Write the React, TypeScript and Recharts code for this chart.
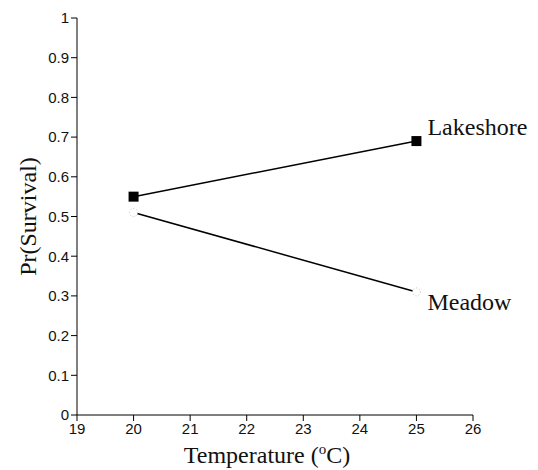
import React from "react";
import { LineChart, Line, XAxis, YAxis } from "recharts";

const temperatures = [20, 25];
const lakeshore = [0.55, 0.69];
const meadow = [0.51, 0.31];
const xTicks = [19, 20, 21, 22, 23, 24, 25, 26];
const yTicks = [0, 0.1, 0.2, 0.3, 0.4, 0.5, 0.6, 0.7, 0.8, 0.9, 1];

const data = temperatures.map((t, i) => ({ temp: t, lakeshore: lakeshore[i], meadow: meadow[i] }));

const tickStyle = { fontSize: 15, fill: "#111", fontFamily: "Liberation Sans, Arial, sans-serif" };
const serif = "Liberation Serif, Times New Roman, serif";

const SquareDot = ({ cx, cy }: any) => (
  <rect x={cx - 5} y={cy - 5} width={10} height={10} fill="#000" />
);

const FaintDot = ({ cx, cy }: any) => (
  <circle cx={cx} cy={cy} r={4} fill="#fff" stroke="#bbb" strokeWidth={1} strokeDasharray="1 2" />
);

const endLabel = (text: string, dy: number) => (props: any) => {
  const { x, y, index } = props;
  if (index !== temperatures.length - 1) return null;
  return (
    <text x={x + 11} y={y + dy} fontSize={24} fontFamily={serif} fill="#111">
      {text}
    </text>
  );
};

export default function App() {
  return (
    <div style={{ position: "absolute", left: 0, top: 0, background: "#fff" }}>
      <LineChart width={538} height={470} data={data} margin={{ top: 18, right: 65, bottom: 0, left: 0 }}>
        <XAxis
          dataKey="temp"
          type="number"
          domain={[19, 26]}
          ticks={xTicks}
          tick={tickStyle}
          stroke="#000"
          tickSize={6}
          height={55}
          label={(props: any) => {
            const { viewBox } = props;
            const cx = viewBox.x + viewBox.width / 2;
            return (
              <text x={cx - 8} y={viewBox.y + 48} textAnchor="middle" fontSize={24} fontFamily={serif} fill="#111">
                Temperature (
                <tspan dy={-9} fontSize={15}>o</tspan>
                <tspan dy={9}>C)</tspan>
              </text>
            );
          }}
        />
        <YAxis
          type="number"
          domain={[0, 1]}
          ticks={yTicks}
          tick={tickStyle}
          stroke="#000"
          tickSize={6}
          width={77}
          label={{
            value: "Pr(Survival)",
            angle: -90,
            position: "insideLeft",
            dx: 22,
            style: { fontSize: 24, fontFamily: serif, fill: "#111", textAnchor: "middle" },
          }}
        />
        <Line
          dataKey="lakeshore"
          stroke="#000"
          strokeWidth={1.5}
          dot={<SquareDot />}
          isAnimationActive={false}
          label={endLabel("Lakeshore", -6)}
        />
        <Line
          dataKey="meadow"
          stroke="#000"
          strokeWidth={1.5}
          dot={<FaintDot />}
          isAnimationActive={false}
          label={endLabel("Meadow", 18)}
        />
      </LineChart>
    </div>
  );
}
